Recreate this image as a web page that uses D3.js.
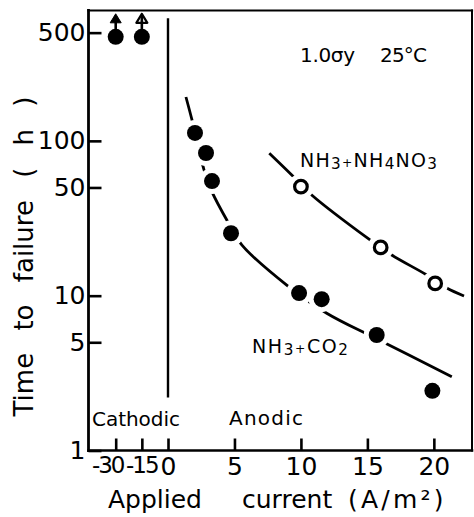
<!DOCTYPE html>
<html>
<head>
<meta charset="utf-8">
<script src="https://cdn.jsdelivr.net/npm/d3@7"></script>
<style>
  html, body { margin: 0; padding: 0; background: #fff; }
  svg { display: block; }
  text { font-family: "DejaVu Sans", sans-serif; fill: #000; }
</style>
</head>
<body>
<div id="chart"></div>
<script>
// ---------- data ----------
const xTicks = [-30, -15, 0, 5, 10, 15, 20];
const yTicks = [1, 5, 10, 50, 100, 500];

// NH3 + CO2 (filled circles)
const co2X = [-30, -15, 2.03, 2.86, 3.31, 4.74, 9.86, 11.56, 15.7, 19.89];
const co2Y = [470, 470, 112.5, 83.5, 55, 25.3, 10.4, 9.5, 5.57, 2.43];
// points still running (arrow up)
const runoutX = [-30, -15];
const runoutY = [470, 470];
const runoutKind = ["filled", "open"];

// NH3 + NH4NO3 (open circles)
const no3X = [10, 16, 20.1];
const no3Y = [50.6, 20.5, 12];

// hand-drawn trend curves
const co2CurveX = [1.35, 1.81, 2.26, 2.71, 3.31, 4.51, 5.55, 8.93, 11.94, 15.65, 21.35];
const co2CurveY = [192, 136, 94, 65, 46.8, 29.9, 21.3, 11.7, 7.7, 5.29, 3.0];
const no3CurveX = [7.62, 9.31, 10.81, 15.2, 16.83, 19.47, 20.97, 22.27];
const no3CurveY = [83.2, 60.2, 44.7, 22.9, 18.3, 13.6, 11.2, 9.95];

// cathodic / anodic divider
const dividerX = 0;
const dividerY = [2.2, 620];

// ---------- layout ----------
const W = 474, H = 517;
const svg = d3.select("#chart").append("svg").attr("width", W).attr("height", H);
svg.append("rect").attr("width", W).attr("height", H).attr("fill", "#fff");

const L = 88.5, R = 472, T = 10.5, B = 450.5;
const x = d3.scaleLinear().domain([-45.6, 0, 22.87]).range([L, 168, R]);
const y = d3.scaleLog().domain([1, 695]).range([B, T]);

// axes
const yAxis = d3.axisLeft(y).tickValues(yTicks).tickFormat(d3.format("d"))
  .tickSizeInner(-13).tickSizeOuter(0).tickPadding(3);
const gy = svg.append("g").attr("transform", `translate(${L},0)`).call(yAxis);
gy.select(".domain").remove();
gy.selectAll(".tick line").attr("stroke", "#000").attr("stroke-width", 2.6);
gy.selectAll(".tick text").attr("font-size", 25).attr("font-family", "DejaVu Sans")
  .attr("fill", "#000");

// crowded cathodic labels: right-aligned, slightly tighter
const labelAdj = { "-30": { dx: 7.3 }, "-15": { dx: 15.2 } };
const xAxis = d3.axisBottom(x).tickValues(xTicks).tickFormat(d => String(d))
  .tickSizeInner(-12).tickSizeOuter(0).tickPadding(6.5);
const gx = svg.append("g").attr("transform", `translate(0,${B})`).call(xAxis);
gx.select(".domain").remove();
gx.selectAll(".tick line").attr("stroke", "#000").attr("stroke-width", 2.6);
gx.selectAll(".tick text").attr("font-size", 25).attr("font-family", "DejaVu Sans")
  .attr("fill", "#000")
  .each(function(d) {
    const a = labelAdj[String(d)];
    if (a) {
      d3.select(this).attr("text-anchor", "end").attr("x", a.dx)
        .attr("font-size", 23).attr("letter-spacing", -2);
    }
  });

// frame
const frame = svg.append("g").attr("stroke", "#000").attr("stroke-linecap", "square");
frame.append("line").attr("x1", L).attr("x2", L).attr("y1", T).attr("y2", B).attr("stroke-width", 2.8);
frame.append("line").attr("x1", L).attr("x2", R).attr("y1", B).attr("y2", B).attr("stroke-width", 2.6);
frame.append("line").attr("x1", L).attr("x2", R).attr("y1", T).attr("y2", T).attr("stroke-width", 2.2);
frame.append("line").attr("x1", R).attr("x2", R).attr("y1", T).attr("y2", B).attr("stroke-width", 2);

// divider
svg.append("line")
  .attr("x1", x(dividerX)).attr("x2", x(dividerX))
  .attr("y1", y(dividerY[1])).attr("y2", y(dividerY[0]))
  .attr("stroke", "#000").attr("stroke-width", 2.4);

// curves
const line = d3.line().x(d => x(d[0])).y(d => y(d[1])).curve(d3.curveCatmullRom.alpha(0.5));
const co2Curve = co2CurveX.map((v, i) => [v, co2CurveY[i]]);
const no3Curve = no3CurveX.map((v, i) => [v, no3CurveY[i]]);
[co2Curve, no3Curve].forEach(c => {
  svg.append("path").attr("d", line(c)).attr("fill", "none")
    .attr("stroke", "#000").attr("stroke-width", 2.8);
});

// white gaps around markers on the curves
const co2Pts = co2X.map((v, i) => [v, co2Y[i]]);
const no3Pts = no3X.map((v, i) => [v, no3Y[i]]);
svg.append("g").selectAll("circle").data(co2Pts.filter(d => d[0] > 0).concat(no3Pts))
  .join("circle").attr("cx", d => x(d[0])).attr("cy", d => y(d[1]))
  .attr("r", 13).attr("fill", "#fff");

// markers
svg.append("g").selectAll("circle").data(co2Pts).join("circle")
  .attr("cx", d => x(d[0])).attr("cy", d => y(d[1])).attr("r", 8).attr("fill", "#000");
svg.append("g").selectAll("circle").data(no3Pts).join("circle")
  .attr("cx", d => x(d[0])).attr("cy", d => y(d[1])).attr("r", 6.3)
  .attr("fill", "#fff").attr("stroke", "#000").attr("stroke-width", 3.2);

// run-out arrows
runoutX.forEach((v, i) => {
  const cx = x(v), cy = y(runoutY[i]);
  const top = cy - 23, base = cy - 14;
  const g = svg.append("g");
  g.append("line").attr("x1", cx).attr("x2", cx).attr("y1", top + 3).attr("y2", cy - 6)
    .attr("stroke", "#000").attr("stroke-width", 2.6);
  g.append("path")
    .attr("d", `M${cx},${top} L${cx - 5.5},${base} L${cx + 5.5},${base} Z`)
    .attr("fill", runoutKind[i] === "filled" ? "#000" : "none")
    .attr("stroke", "#000").attr("stroke-width", runoutKind[i] === "filled" ? 1 : 2.2)
    .attr("stroke-linejoin", "round");
});

// texts
svg.append("text").attr("transform", "translate(33,256.5) rotate(-90)")
  .attr("text-anchor", "middle").attr("font-size", 26)
  .attr("word-spacing", 14)
  .text("Time to failure ( h )");

svg.append("text").attr("x", 108).attr("y", 508).attr("font-size", 25).text("Applied");
svg.append("text").attr("x", 242).attr("y", 508).attr("font-size", 25).text("current");
svg.append("text").attr("x", 348).attr("y", 508).attr("font-size", 25)
  .attr("letter-spacing", 3.2).text("(A/m²)");

svg.append("text").attr("x", 92).attr("y", 426).attr("font-size", 20)
  .attr("textLength", 88).attr("lengthAdjust", "spacing").text("Cathodic");
svg.append("text").attr("x", 229).attr("y", 425).attr("font-size", 20)
  .attr("textLength", 74).attr("lengthAdjust", "spacing").text("Anodic");

svg.append("text").attr("x", 300).attr("y", 62).attr("font-size", 20)
  .attr("textLength", 55).attr("lengthAdjust", "spacing").text("1.0σy");
svg.append("text").attr("x", 380).attr("y", 62).attr("font-size", 20)
  .attr("textLength", 47).attr("lengthAdjust", "spacing").text("25°C");

function chem(xp, yp, parts, len) {
  const t = svg.append("text").attr("x", xp).attr("y", yp).attr("font-size", 19)
    .attr("textLength", len).attr("lengthAdjust", "spacing");
  parts.forEach(p => {
    const s = t.append("tspan").text(p[0]);
    if (p[1] === "sub") s.attr("font-size", "0.8em").attr("dy", 2);
    if (p[1] === "plus") s.attr("font-size", "0.65em").attr("dy", -2);
    if (p[1] === "back") s.attr("dy", -2);
  });
}
chem(300, 167, [["NH"], ["3", "sub"], ["+", "plus"], ["NH"], ["4", "sub"], ["NO", "back"], ["3", "sub"]], 137);
chem(252, 353, [["NH"], ["3", "sub"], ["+", "plus"], ["CO"], ["2", "sub"]], 96);
</script>
</body>
</html>
